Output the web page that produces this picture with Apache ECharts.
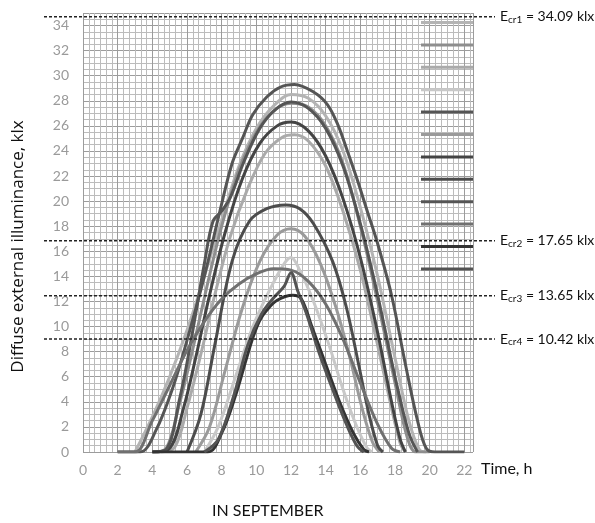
<!DOCTYPE html>
<html>
<head>
<meta charset="utf-8">
<script src="https://cdn.jsdelivr.net/npm/echarts@6/dist/echarts.min.js"></script>
<style>
html, body { margin: 0; padding: 0; background: #fff; }
#chart { width: 595px; height: 523px; }
</style>
</head>
<body>
<div id="chart"></div>
<script>
// illuminance curves, points are [hour, klx]
var curve1 = [[3.0,0],[4,2.8],[5,6],[6,9.7],[7,14],[8,18.5],[9,22.8],[10,25.8],[11,27.6],[12,28.5],[13,28.2],[14,26.8],[15,24],[16,19.5],[17,14],[18,7.5],[18.8,2.5],[19.4,0.2],[19.8,0]];
var curve2 = [[4,0],[4.8,0.3],[5.5,3.5],[6.3,8],[7.2,13.5],[8,18],[9,22.5],[10,25.5],[11,27.2],[12,27.8],[13,27.5],[14,26],[15,23],[16,18],[17,12],[18,5.5],[18.7,1.2],[19.2,0],[20,0]];
var curve3 = [[4.5,0],[5.3,0.4],[6,3.5],[6.8,7.8],[7.6,12.5],[8.5,17.2],[9.5,21],[10.5,23.8],[11.5,25.1],[12.2,25.3],[13,24.8],[14,22.8],[15,19.2],[16,14.5],[17,8.5],[17.8,3.5],[18.3,0.7],[18.6,0]];
var curve4 = [[7,0],[7.8,2],[8.8,6],[9.8,10],[10.8,13],[11.6,15],[12,15.5],[12.5,14.5],[13.3,12],[14.2,8.5],[15,5],[15.8,2],[16.4,0.3],[16.7,0]];
var curve5 = [[2,0],[3.3,0],[4.2,1.7],[5.2,5.2],[6,8.9],[7,14],[7.9,19.2],[8.6,23],[9.2,25],[9.8,26.9],[10.6,28.3],[11.4,29.1],[12.2,29.3],[13.3,28.7],[14.1,27.7],[14.7,26.1],[15.2,24.2],[15.8,21.8],[16.4,19.2],[17,16.6],[17.8,12.5],[18.6,7],[19.3,2.5],[19.8,0.3],[20.3,0],[22,0]];
var curve6 = [[6.5,0],[7.3,2],[8.2,6.5],[9.2,11.5],[10.2,15.2],[11.2,17.3],[12,17.8],[12.8,17.2],[13.7,15],[14.6,11.5],[15.4,7.5],[16.1,3.5],[16.7,0.8],[17.1,0]];
var curve7 = [[4,0],[5,0.3],[5.8,3.5],[6.5,7.5],[7.3,12.5],[8.2,17.5],[9.2,21.8],[10.2,24.6],[11.2,26],[12,26.3],[13,25.6],[14,23.6],[15,20.2],[16,15.5],[17,9.5],[17.8,4],[18.3,1],[18.6,0]];
var curve8 = [[6,0],[6.8,3],[7.6,8.5],[8.6,15.2],[9.6,18.4],[10.6,19.4],[11.7,19.7],[12.5,19.4],[13.3,18.2],[14.4,15.2],[15.2,11.5],[15.9,7],[16.5,3],[17,0.5],[17.3,0]];
var curve9 = [[4,0],[4.8,0.2],[5.6,4.4],[6,7.1],[6.5,11],[7,15],[7.5,18.4],[8,19.2],[8.5,20.3],[9.3,23.2],[10.2,25.8],[11.1,27.3],[12,27.9],[13,27.4],[14,25.8],[15,22.8],[16,18.2],[17,12.5],[18,6],[18.8,1.5],[19.3,0]];
var curve10 = [[2,0],[3,0],[4,2.5],[5,5.3],[6,8.1],[7,10.4],[8,12.2],[9,13.4],[10,14.2],[11,14.6],[12,14.5],[13,13.6],[14,11.8],[15,9],[16,5.5],[17,2.2],[17.8,0.3],[18.3,0]];
var curve11 = [[4,0],[7.2,0],[8,1.5],[8.8,4.5],[9.4,7.3],[9.8,9.1],[10.2,10.5],[10.6,11.3],[11.2,12.1],[12.1,12.5],[12.6,12.2],[13.2,10],[14,7],[14.8,4],[15.6,1.5],[16.2,0.2],[16.5,0]];
var curve12 = [[7,0],[7.8,1],[8.7,4.5],[9.5,8.5],[10.3,11],[11,12.3],[11.6,13.2],[12,14.3],[12.4,12.8],[12.9,11],[13.6,8],[14.4,5],[15.2,2.2],[15.8,0.5],[16.2,0]];

var curves = [curve1, curve2, curve3, curve4, curve5, curve6, curve7, curve8, curve9, curve10, curve11, curve12];
var curveNames = ['c1','c2','c3','c4','c5','c6','c7','c8','c9','c10','c11','c12'];
var curveColors = ['#b4b4b4','#8e8e8e','#aaaaaa','#c8c8c8','#555555','#9a9a9a','#444444','#4c4c4c','#555555','#707070','#333333','#535353'];

// critical levels (drawn where they sit in the picture) and their captions
var critValues = [34.7, 16.85, 12.45, 9.0];
var critSubs = ['cr1','cr2','cr3','cr4'];
var critTexts = ['34.09','17.65','13.65','10.42'];

var font = 'Lato';
var chart = echarts.init(document.getElementById('chart'), null, {renderer: 'canvas'});

var series = [];
for (var i = 0; i < curves.length; i++) {
    series.push({
        name: curveNames[i],
        type: 'line',
        data: curves[i],
        smooth: 0.35,
        symbol: 'none',
        color: curveColors[i],
        lineStyle: {width: 3, color: curveColors[i]},
        z: 3
    });
}
for (var k = 0; k < critValues.length; k++) {
    series.push({
        name: 'E' + critSubs[k],
        type: 'line',
        xAxisIndex: 1,
        yAxisIndex: 1,
        data: [[0, critValues[k]], [1, critValues[k]]],
        symbol: 'none',
        silent: true,
        lineStyle: {width: 1.5, color: '#222', type: [3, 2]},
        z: 5,
        endLabel: {
            show: true,
            distance: 5,
            formatter: '{e|E}{s|' + critSubs[k] + '}{e| = ' + critTexts[k] + ' klx}',
            rich: {
                e: {fontFamily: font, fontSize: 14, color: '#111'},
                s: {fontFamily: font, fontSize: 10, color: '#111', padding: [6, 0, 0, 0]}
            }
        }
    });
}

var option = {
    backgroundColor: '#fff',
    animation: false,
    textStyle: {fontFamily: font},
    title: {
        text: 'IN SEPTEMBER',
        left: 212,
        top: 503,
        padding: 0,
        textStyle: {fontFamily: font, fontSize: 16, fontWeight: 'normal', color: '#111'}
    },
    legend: {
        orient: 'vertical',
        left: 421,
        top: 21,
        padding: 0,
        itemWidth: 52,
        itemHeight: 3,
        itemGap: 19.4,
        icon: 'rect',
        selectedMode: false,
        data: curveNames,
        formatter: function () { return ''; },
        textStyle: {fontSize: 1, lineHeight: 1}
    },
    grid: [
        {left: 83, right: 122, top: 13, bottom: 71},
        {left: 44, right: 100, top: 13, bottom: 71}
    ],
    xAxis: [{
        type: 'value',
        min: 0,
        max: 22.5,
        interval: 2,
        name: 'Time, h',
        nameLocation: 'end',
        nameGap: 8,
        nameTextStyle: {fontFamily: font, fontSize: 16, color: '#111', verticalAlign: 'top', padding: [9, 0, 0, 0]},
        axisLine: {show: false},
        axisTick: {show: false},
        axisLabel: {color: '#9a9a9a', fontSize: 14, margin: 11, showMaxLabel: false},
        splitLine: {show: true, lineStyle: {color: '#9c9c9c', width: 1}},
        minorTick: {show: false, splitNumber: 6},
        minorSplitLine: {show: true, lineStyle: {color: '#bcbcbc', width: 1}}
    }, {
        gridIndex: 1,
        type: 'value',
        min: 0,
        max: 1,
        show: false
    }],
    yAxis: [{
        type: 'value',
        min: 0,
        max: 35,
        interval: 2,
        name: 'Diffuse external illuminance, klx',
        nameLocation: 'middle',
        nameGap: 56,
        nameTextStyle: {fontFamily: 'Open Sans', fontSize: 17, color: '#111', padding: [0, 28, 0, 0]},
        axisLine: {show: false},
        axisTick: {show: false},
        axisLabel: {color: '#9a9a9a', fontSize: 14, margin: 14, showMaxLabel: false},
        splitLine: {show: true, lineStyle: {color: '#9c9c9c', width: 1}},
        minorTick: {show: false, splitNumber: 4},
        minorSplitLine: {show: true, lineStyle: {color: '#bcbcbc', width: 1}}
    }, {
        gridIndex: 1,
        type: 'value',
        min: 0,
        max: 35,
        show: false
    }],
    series: series
};
chart.setOption(option);
</script>
</body>
</html>
